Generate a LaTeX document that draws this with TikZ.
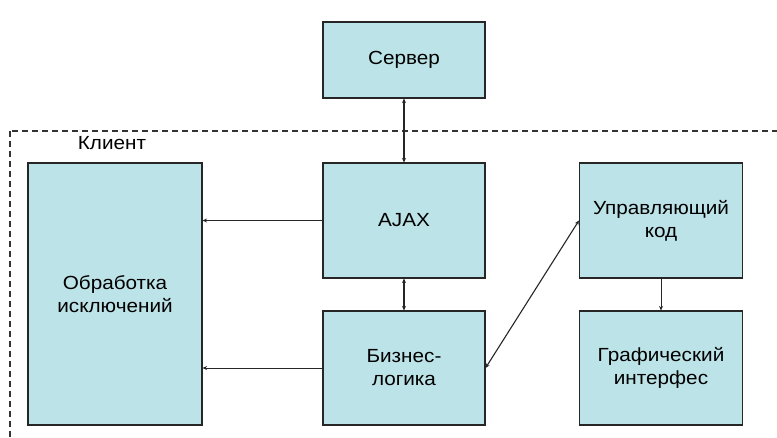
\documentclass[tikz,border=0pt]{standalone}
\usepackage{fontspec}
\setmainfont[FakeStretch=1.09]{Liberation Sans}
\usetikzlibrary{arrows.meta,positioning}

\definecolor{boxfill}{RGB}{188,227,231}

\begin{document}
\begin{tikzpicture}[
    x=1pt, y=-1pt,
    block/.style={draw=black!85, line width=1.1pt, rectangle, fill=boxfill, align=center, inner sep=0pt, font=\fontsize{19}{23}\selectfont},
    edge/.style={-{Stealth[length=4.5pt,width=4pt]}, line width=1pt, draw=black!85},
    biedge/.style={{Stealth[length=4.5pt,width=4pt]}-{Stealth[length=4.5pt,width=4pt]}, line width=1.1pt, draw=black!85},
    label/.style={font=\fontsize{19}{23}\selectfont},
]
\clip (0,0) rectangle (777,437);

% Client frame
\draw[line width=1.1pt, black!80, dash pattern=on 6pt off 4pt] (10,131) rectangle (800,460);
\node[label] (client) at (112,143) {Клиент};

% Server
\node[block, minimum width=162, minimum height=76] (server) at (404,60) {Сервер};

% Client blocks
\node[block, minimum width=174, minimum height=262] (exc) at (115,294) {Обработка\\исключений};
\node[block, minimum width=162, minimum height=115] (ajax) at (404,220.5) {AJAX};
\node[block, minimum width=162, minimum height=114] (biz) at (404,368) {Бизнес-\\логика};
\node[block, minimum width=163, minimum height=115] (ctrl) at (661,220.5) {Управляющий\\код};
\node[block, minimum width=163, minimum height=114] (gui) at (661,368) {Графический\\интерфес};

\draw[biedge] (server) -- (ajax);
\draw[biedge] (ajax) -- (biz);
\draw[edge] (ajax) -- (exc.east |- ajax);
\draw[edge] (biz) -- (exc.east |- biz);
\draw[biedge] (biz.east) -- (ctrl.west);
\draw[edge] (ctrl) -- (gui);

\end{tikzpicture}
\end{document}
